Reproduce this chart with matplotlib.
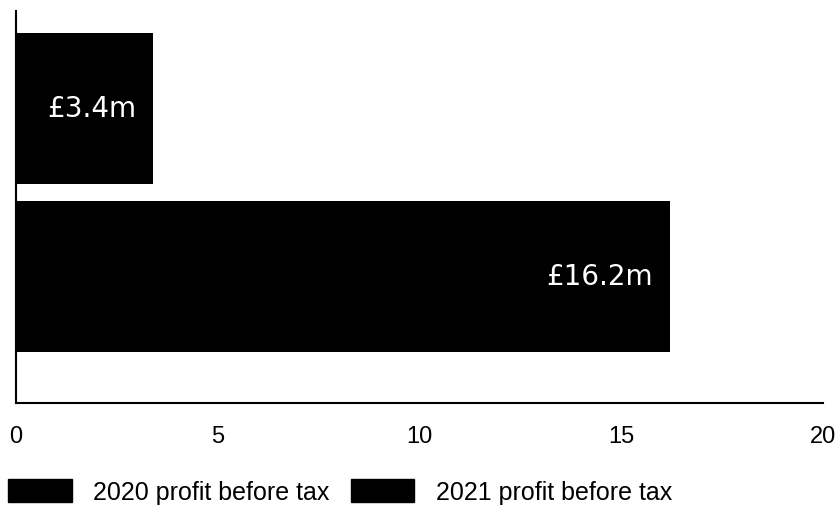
import matplotlib.pyplot as plt
from matplotlib.patches import Patch

years = ["2021 profit before tax", "2020 profit before tax"]
profit = [16.2, 3.4]
labels = ["£16.2m", "£3.4m"]
xticks = [0, 5, 10, 15, 20]

plt.rcParams["font.family"] = ["Liberation Sans", "DejaVu Sans"]

fig = plt.figure(figsize=(8.39, 5.06), dpi=100)
ax = fig.add_axes([16 / 839, 1 - 404 / 506, 807 / 839, 392 / 506])

ypos = [0, 1]
ax.barh(ypos, profit, height=0.9, color="black")
for y, v, lab in zip(ypos, profit, labels):
    ax.annotate(lab, (v, y), xytext=(-17, 0), textcoords="offset pixels",
                ha="right", va="center", color="white", fontsize=20,
                family="DejaVu Sans")

ax.set_xlim(0, 20)
ax.set_ylim(-0.753, 1.58)
ax.set_xticks(xticks)
ax.set_yticks([])
ax.tick_params(axis="x", length=0, pad=16, labelsize=17)
for s in ["top", "right"]:
    ax.spines[s].set_visible(False)
for s in ["left", "bottom"]:
    ax.spines[s].set_linewidth(1.5)

handles = [Patch(color="black", label=years[1]), Patch(color="black", label=years[0])]
fig.legend(handles=handles, loc="lower left", bbox_to_anchor=(8 / 839, 0.002),
           ncol=2, frameon=False, fontsize=18, borderpad=0, borderaxespad=0,
           handlelength=2.55, handleheight=1.0, handletextpad=0.85,
           columnspacing=0.85)

fig.savefig("out.png", dpi=100)
